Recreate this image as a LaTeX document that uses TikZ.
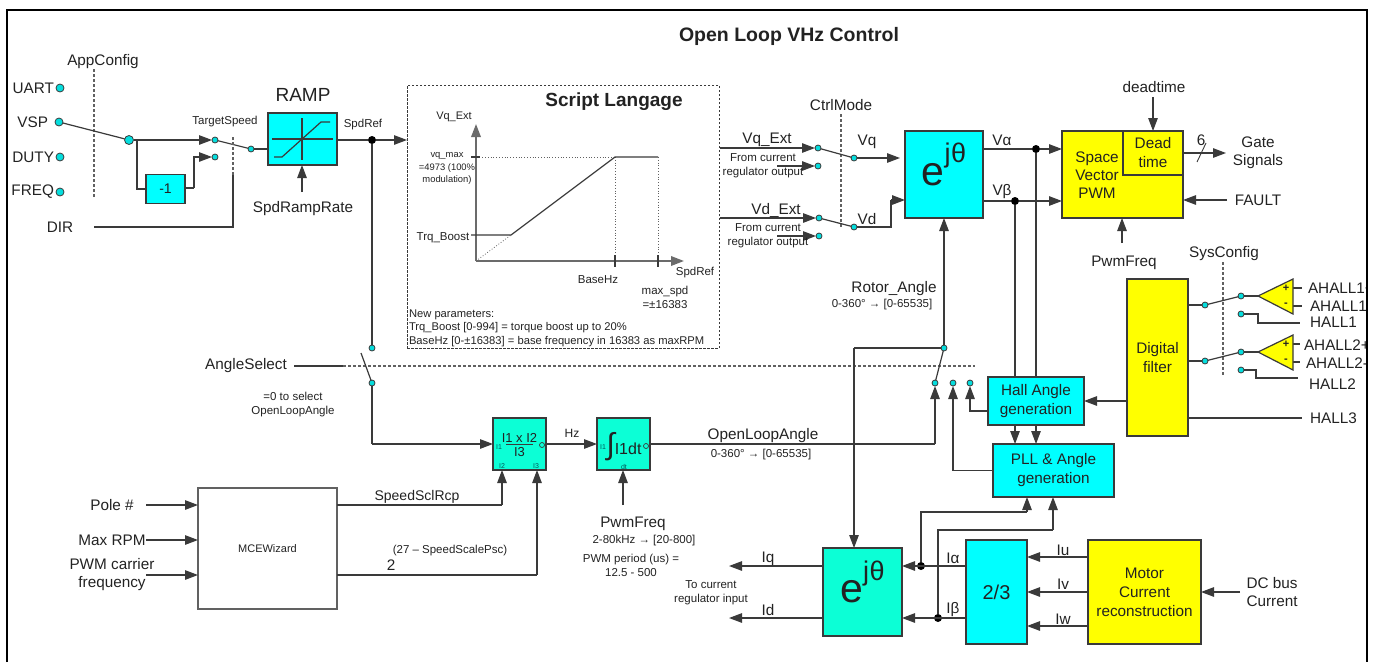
\documentclass[tikz,border=0pt]{standalone}
\usepackage{fontspec}
\setmainfont{Liberation Sans}
\usepackage{xcolor}
\definecolor{Aqua}{HTML}{00FFFF}
\definecolor{Mint}{HTML}{0CFFD6}
\definecolor{Lemon}{HTML}{FFFF00}
\definecolor{Ink}{HTML}{222222}
\definecolor{Wire}{HTML}{3A3A3A}
\colorlet{cPort}{Aqua!85!Ink}
\usepackage{tikz}
\usetikzlibrary{positioning, arrows.meta}
\tikzset{
	>={Triangle[length=13pt,width=9.5pt]},
	txt/.style={
		inner sep=0pt,
		outer sep=0pt,
		align=center,
		text=Ink
	},
	big label/.style={
		txt,
		font=\fontsize{15.3}{18}\selectfont
	},
	small label/.style={
		txt,
		font=\fontsize{11.5}{14}\selectfont
	},
	port label/.style={
		txt,
		text=teal!70!black,
		font=\fontsize{7}{8}\selectfont
	},
	block/.style={
		draw=Wire,
		line width=1.2pt,
		fill=Aqua,
		outer sep=0pt,
		inner sep=0pt,
		align=center,
		text=Ink,
		font=\fontsize{15.3}{19}\selectfont
	},
	mint block/.style={
		block,
		fill=Mint
	},
	yellow block/.style={
		block,
		fill=Lemon
	},
	terminal/.style={
		draw=Wire,
		circle,
		fill=cPort,
		line width=.8pt,
		minimum size=6pt,
		inner sep=0pt,
		outer sep=0pt
	},
	input terminal/.style={
		terminal,
		minimum size=8pt
	},
	big terminal/.style={
		terminal,
		minimum size=9pt
	},
	junction/.style={
		circle,
		fill=black,
		minimum size=8pt,
		inner sep=0pt,
		outer sep=0pt
	},
	port/.style={
		draw=Wire,
		circle,
		line width=.7pt,
		minimum size=5pt,
		inner sep=0pt
	},
	wire/.style={
		draw=Wire,
		line width=1.2pt
	},
	edge/.style={
		->,
		wire
	},
	config line/.style={
		draw=Wire!80,
		line width=1.2pt,
		dash pattern=on 3pt off 2pt
	},
	axis/.style={
		->,
		draw=Wire!75,
		line width=1.8pt
	},
	guide/.style={
		draw=Wire!80,
		line width=.8pt,
		dotted
	}
}

\newcommand{\ejt}[1]{{\fontsize{#1}{#1}\selectfont e\smash{\raisebox{.55em}{\fontsize{27}{27}\selectfont j\hspace{.5pt}θ}}}}

\begin{document}
\begin{tikzpicture}[x=1pt, y=-1pt]
\useasboundingbox (0,0) rectangle (1373,662);
\coordinate (f-bl) at (7,662);
\coordinate (f-tl) at (7,10);
\coordinate (f-tr) at (1367,10);
\coordinate (f-br) at (1367,662);
\node[txt, font=\fontsize{19.5}{22}\selectfont\bfseries] at (789,36) (title) {Open Loop VHz Control};

% ---
% speed inputs
% ---
\node[big label] at (103,62) (appconfig) {AppConfig};
\coordinate (appconfig-end) at (94,197);
\draw[config line] (94,69) -- (appconfig-end);

\node[input terminal] at (60,88) (t-uart) {};
\node[input terminal] at (59,122) (t-vsp) {};
\node[input terminal] at (60,157) (t-duty) {};
\node[input terminal] at (60,192) (t-freq) {};
\node[big label, left=2pt of t-uart] (l-uart) {UART};
\node[big label, left=7pt of t-vsp] (l-vsp) {VSP};
\node[big label, left=2pt of t-duty] (l-duty) {DUTY};
\node[big label, left=2pt of t-freq] (l-freq) {FREQ};

\node[big terminal] at (129,140) (t-dir) {};
\node[terminal] at (215,140) (t-pos) {};
\node[terminal] at (215,157) (t-neg) {};
\node[terminal] at (251,149) (t-spd) {};
\node[block, minimum width=39pt, minimum height=29pt] at (165.5,189) (neg) {\fontsize{14}{14}\selectfont -1};
\coordinate (c-branch) at (137,140);
\coordinate (c-neg) at (194,188);

\draw[wire] (t-vsp) -- (t-dir);
\draw[edge] (t-dir) -- (t-pos);
\draw[wire] (c-branch) |- (neg.west);
\draw[wire] (neg.east |- c-neg) -- (c-neg);
\draw[edge] (c-neg) |- (t-neg);
\draw[wire] (t-pos) -- (t-spd);

\node[small label] at (225,122) (targetspeed) {TargetSpeed};
\node[big label] at (60,227) (l-sel) {DIR};
\coordinate (sel-in) at (94,227);
\coordinate (sel-corner) at (233,227);
\coordinate (sel-mid) at (233,175);
\coordinate (sel-top) at (233,137);
\draw[wire] (sel-in) -- (sel-corner) -- (sel-mid);
\draw[config line] (sel-mid) -- (sel-top);

% ---
% ramp
% ---
\node[block, minimum width=69pt, minimum height=52pt] at (302.5,139) (ramp) {};
\node[txt, font=\fontsize{19}{22}\selectfont] at (303,95) (l-ramp) {RAMP};
\draw[wire] (302,118) -- (302,160);
\draw[wire] (272,139) -- (333,139);
\draw[wire] (274,157) -- (282,157) -- (321,122) -- (330,122);
\draw[wire] (t-spd) -- (t-spd -| ramp.west);
\node[big label] at (303,209) (l-ramprate) {SpdRampRate};
\coordinate (ramprate-in) at (302,192);
\draw[edge] (ramprate-in) -- (ramp.south -| ramprate-in);

\node[small label] at (363,125) (l-spdref) {SpdRef};
\node[junction] at (372,140) (j-spdref) {};
\draw[wire] (ramp.east |- j-spdref) -- (j-spdref);

% ---
% script block
% ---
\node[draw=Wire, line width=1pt, dash pattern=on 2.5pt off 1.5pt, minimum width=312pt, minimum height=263pt, inner sep=0pt, outer sep=0pt] at (563,216.5) (script) {};
\draw[edge] (j-spdref) -- (script.west |- j-spdref);
\node[txt, font=\fontsize{19}{22}\selectfont\bfseries] at (614,102) (l-script) {Script Langage};

\coordinate (g-o) at (476,261);
\coordinate (g-y) at (476,124);
\coordinate (g-x) at (684,261);
\coordinate (g-vq) at (471,157);
\coordinate (g-a) at (615,157);
\coordinate (g-b) at (658,157);
\coordinate (g-boost) at (471,235);
\coordinate (g-c) at (511,235);
\draw[guide] (g-vq) -- (g-a);
\draw[guide] (g-o) -- (g-c);
\draw[guide] (g-a) -- (g-a |- g-o);
\draw[guide] (g-b) -- (g-b |- g-o);
\draw[axis] (g-o) -- (g-y);
\draw[axis] (g-o) -- (g-x);
\draw[wire] (g-boost) -- (g-c) -- (g-a) -- (g-b);
\draw[wire] (g-vq) -- ++(9,0);
\draw[wire] (615,255) -- (615,267);
\draw[wire] (658,255) -- (658,267);

\node[small label, font=\fontsize{11}{14}\selectfont] at (454,117) (l-vqext) {Vq\_Ext};
\node[txt, font=\fontsize{9.4}{12.5}\selectfont] at (447,168.5) (l-vqmax) {vq\_max\\=4973 (100\%\\modulation)};
\node[small label] at (443,238) (l-boost) {Trq\_Boost};
\node[small label] at (598,280) (l-basehz) {BaseHz};
\node[small label] at (695,273) (l-gspd) {SpdRef};
\node[small label] at (665,297.5) (l-maxspd) {max\_spd\\=±16383};
\node[small label, align=left, anchor=west, font=\fontsize{11.2}{13.4}\selectfont] at (409,328) (l-params) {New parameters:\\Trq\_Boost [0-994] = torque boost up to 20\%\\BaseHz [0-±16383] = base frequency in 16383 as maxRPM};

% ---
% voltage command selection
% ---
\node[big label] at (841,105) (l-ctrlmode) {CtrlMode};
\draw[config line] (841,114) -- (841,227);

\node[block, minimum width=78pt, minimum height=87pt] at (944,174.5) (ejt-v) {\ejt{41}};

\node[terminal] at (818,148) (t-vq1) {};
\node[terminal] at (818,166) (t-vq2) {};
\node[terminal] at (854,158) (t-vq) {};
\node[terminal] at (819,218) (t-vd1) {};
\node[terminal] at (819,236) (t-vd2) {};
\node[terminal] at (854,227) (t-vd) {};
\coordinate (vq1-in) at (720,148);
\coordinate (vq2-in) at (777,166);
\coordinate (vd1-in) at (720,218);
\coordinate (vd2-in) at (777,236);
\coordinate (vq-tip) at (900,158);
\coordinate (vd-a) at (891,227);
\coordinate (vd-b) at (891,200);

\draw[edge] (vq1-in) -- (t-vq1);
\draw[edge] (vq2-in) -- (t-vq2);
\draw[edge] (vd1-in) -- (t-vd1);
\draw[edge] (vd2-in) -- (t-vd2);
\draw[wire] (t-vq1) -- (t-vq);
\draw[wire] (t-vd1) -- (t-vd);
\draw[edge] (t-vq) -- (vq-tip);
\draw[wire] (t-vd) -- (vd-a) -- (vd-b);
\draw[edge] (vd-b) -- (ejt-v.west |- vd-b);

\node[big label] at (767,140) (l-vq1) {Vq\_Ext};
\node[small label] at (763,166) (l-from1) {From current\\regulator output};
\node[big label] at (776,210) (l-vd1) {Vd\_Ext};
\node[small label] at (768,236) (l-from2) {From current\\regulator output};
\node[big label] at (867,142) (l-vq) {Vq};
\node[big label] at (867,219) (l-vd) {Vd};

% ---
% space vector pwm
% ---
\node[yellow block, minimum width=121pt, minimum height=87pt] at (1122.5,174.5) (svpwm) {};
\node[yellow block, minimum width=60pt, minimum height=44pt] at (1153,153) (dead) {Dead\\time};
\node[txt, font=\fontsize{15.3}{18}\selectfont] at (1097,175) (l-svpwm) {Space\\Vector\\PWM};

\node[junction] at (1036,149) (j-valpha) {};
\node[junction] at (1015,201) (j-vbeta) {};
\draw[wire] (ejt-v.east |- j-valpha) -- (j-valpha);
\draw[wire] (ejt-v.east |- j-vbeta) -- (j-vbeta);
\draw[edge] (j-valpha) -- (svpwm.west |- j-valpha);
\draw[edge] (j-vbeta) -- (svpwm.west |- j-vbeta);
\node[big label] at (1002,140) (l-valpha) {Vα};
\node[big label] at (1002,192) (l-vbeta) {Vβ};

\node[big label] at (1154,87) (l-deadtime) {deadtime};
\coordinate (deadtime-in) at (1153,97);
\draw[edge] (deadtime-in) -- (dead.north);
\coordinate (gate-tip) at (1226,153);
\draw[edge] (dead.east) -- (gate-tip);
\draw[wire, line width=.9pt] (1197,162) -- (1206,143);
\node[big label] at (1201,140) (l-six) {6};
\node[big label] at (1258,153) (l-gate) {Gate\\Signals};
\node[big label] at (1258,200) (l-fault) {FAULT};
\coordinate (fault-in) at (1227,200);
\draw[edge] (fault-in) -- (svpwm.east |- fault-in);
\node[big label] at (1124,263) (l-pwm) {PwmFreq};
\coordinate (pwm-in) at (1122,243);
\draw[edge] (pwm-in) -- (svpwm.south -| pwm-in);

% ---
% hall inputs
% ---
\node[big label] at (1224,254) (l-sysconfig) {SysConfig};
\draw[config line] (1223,262) -- (1223,375);
\node[yellow block, minimum width=61pt, minimum height=157pt] at (1157.5,357.5) (filter) {Digital\\filter};

\node[terminal] at (1205,305) (t-h1) {};
\node[terminal] at (1241,296) (t-h1a) {};
\node[terminal] at (1241,314) (t-h1b) {};
\node[terminal] at (1205,361) (t-h2) {};
\node[terminal] at (1241,352) (t-h2a) {};
\node[terminal] at (1241,370) (t-h2b) {};
\coordinate (op1-tip) at (1258,296);
\coordinate (op2-tip) at (1258,352);

\draw[wire] (filter.east |- t-h1) -- (t-h1);
\draw[wire] (t-h1) -- (t-h1a);
\draw[wire] (t-h1a) -- (op1-tip);
\draw[wire] (filter.east |- t-h2) -- (t-h2);
\draw[wire] (t-h2) -- (t-h2a);
\draw[wire] (t-h2a) -- (op2-tip);

\draw[wire] (1293,288) -- (1302,288);
\draw[wire] (1293,306) -- (1302,306);
\draw[wire] (1293,344) -- (1300,344);
\draw[wire] (1293,362) -- (1300,362);
\draw[wire, fill=Lemon] (op1-tip) -- (1293,279) -- (1293,314) -- cycle;
\draw[wire, fill=Lemon] (op2-tip) -- (1293,335) -- (1293,370) -- cycle;
\node[txt, font=\fontsize{11}{11}\selectfont\bfseries] at (1286,288) (op1-p) {+};
\node[txt, font=\fontsize{11}{11}\selectfont\bfseries] at (1286,305) (op1-m) {-};
\node[txt, font=\fontsize{11}{11}\selectfont\bfseries] at (1286,344) (op2-p) {+};
\node[txt, font=\fontsize{11}{11}\selectfont\bfseries] at (1286,361) (op2-m) {-};

\begin{scope}
\clip (1290,270) rectangle (1367,380);
\node[big label, anchor=west] at (1308,288) (l-a1p) {AHALL1+};
\node[big label, anchor=west] at (1310,306) (l-a1m) {AHALL1-};
\node[big label, anchor=west] at (1304,345) (l-a2p) {AHALL2+};
\node[big label, anchor=west] at (1306,363) (l-a2m) {AHALL2-};
\end{scope}
\node[big label, anchor=west] at (1310,322) (l-h1) {HALL1};
\node[big label, anchor=west] at (1309,384) (l-h2) {HALL2};
\node[big label, anchor=west] at (1310,418) (l-h3) {HALL3};

\coordinate (h1-a) at (1258,314);
\coordinate (h1-b) at (1258,323);
\coordinate (h1-c) at (1300,323);
\coordinate (h2-a) at (1256,370);
\coordinate (h2-b) at (1256,378);
\coordinate (h2-c) at (1298,378);
\coordinate (h3-c) at (1302,418);
\draw[wire] (t-h1b) -- (h1-a) -- (h1-b) -- (h1-c);
\draw[wire] (t-h2b) -- (h2-a) -- (h2-b) -- (h2-c);
\draw[wire] (filter.east |- h3-c) -- (h3-c);

% ---
% angle generation
% ---
\node[block, minimum width=96pt, minimum height=48pt] at (1036,401) (hall) {Hall Angle\\generation};
\node[block, minimum width=121pt, minimum height=53pt] at (1053.5,470.5) (pll) {PLL \& Angle\\generation};
\draw[edge] (filter.west |- hall) -- (hall.east);
\draw[wire] (j-valpha) -- (j-valpha |- hall.north);
\draw[wire] (j-vbeta) -- (j-vbeta |- hall.north);
\draw[edge] (hall.south -| j-valpha) -- (pll.north -| j-valpha);
\draw[edge] (hall.south -| j-vbeta) -- (pll.north -| j-vbeta);

\node[big label] at (894,289) (l-rotor) {Rotor\_Angle};
\node[small label] at (882,305) (l-rotor-range) {0-360° → [0-65535]};

\node[big label] at (246,366) (l-anglesel) {AngleSelect};
\coordinate (anglesel-in) at (294,366);
\coordinate (anglesel-mid) at (343,366);
\coordinate (anglesel-end) at (975,366);
\draw[wire] (anglesel-in) -- (anglesel-mid);
\draw[config line] (anglesel-mid) -- (anglesel-end);
\node[small label] at (293,405) (l-anglesel-note) {=0 to select\\OpenLoopAngle};

\node[terminal] at (372,348) (t-sel-in) {};
\node[terminal] at (372,383) (t-sel-out) {};
\coordinate (blade-end) at (361,353);
\draw[wire] (j-spdref) -- (t-sel-in);
\draw[wire] (blade-end) -- (t-sel-out);

\node[terminal] at (944,348) (t-ang) {};
\node[terminal] at (935,383) (t-ang1) {};
\node[terminal] at (953,383) (t-ang2) {};
\node[terminal] at (970,383) (t-ang3) {};
\draw[wire] (t-ang) -- (t-ang1);
\draw[edge] (t-ang) -- (ejt-v.south -| t-ang);
\draw[edge] (pll.west) -| (t-ang2);
\draw[edge] (hall.west |- 0,411) -| (t-ang3);

% ---
% open loop angle
% ---
\node[mint block, minimum width=53pt, minimum height=52pt] at (519.5,444) (scale) {};
\node[txt, font=\fontsize{13}{13}\selectfont, anchor=south] at (519.5,442.5) (scale-num) {I1 x I2};
\node[txt, font=\fontsize{13}{13}\selectfont, anchor=north] at (519.5,447) (scale-den) {I3};
\draw[wire, line width=1pt] (506,444.5) -- (533,444.5);
\node[port label] at (499,447) (scale-i1) {I1};
\node[port label] at (502,466) (scale-i2) {I2};
\node[port label] at (536,466) (scale-i3) {I3};
\node[port] at (542,445) (scale-o) {};

\node[mint block, minimum width=53pt, minimum height=52pt] at (623.5,444) (integ) {};
\node[txt, font=\fontsize{16}{16}\selectfont] at (624,447) (integ-txt) {{\fontsize{30}{30}\selectfont ∫}I1dt};
\node[port label] at (603,447) (integ-i1) {I1};
\node[port label] at (624,467) (integ-dt) {dt};
\node[port] at (646,446) (integ-o) {};

\coordinate (sel-corner2) at (372,444);
\draw[wire] (t-sel-out) -- (sel-corner2);
\draw[edge] (sel-corner2) -- (scale.west);
\draw[edge] (scale.east) -- (integ.west);
\node[small label, font=\fontsize{12}{12}\selectfont] at (572,433) (l-hz) {Hz};
\coordinate (ol-corner) at (935,444);
\draw[wire] (integ.east) -- (ol-corner);
\draw[edge] (ol-corner) -- (t-ang1);
\node[big label] at (763,436) (l-ol) {OpenLoopAngle};
\node[small label] at (761,455) (l-ol-range) {0-360° → [0-65535]};

\coordinate (pwm2-in) at (623,505);
\draw[edge] (pwm2-in) -- (integ.south -| pwm2-in);
\node[big label] at (633,524) (l-pwm2) {PwmFreq};
\node[small label] at (644,541) (l-pwm2-range) {2-80kHz → [20-800]};
\node[small label] at (631,565) (l-pwm2-period) {PWM period (us) =\\12.5 - 500};

% ---
% scaling inputs
% ---
\node[draw=Wire!80, line width=1.2pt, fill=white, minimum width=139pt, minimum height=121pt, inner sep=0pt, outer sep=0pt, font=\fontsize{11}{13}\selectfont, text=Ink] at (267.5,548.5) (wizard) {MCEWizard};
\node[big label] at (112,505) (l-pole) {Pole \#};
\node[big label] at (112,540) (l-rpm) {Max RPM};
\node[big label] at (112,575) (l-carrier) {PWM carrier\\frequency};
\coordinate (pole-in) at (146,505);
\coordinate (rpm-in) at (146,540);
\coordinate (carrier-in) at (146,575);
\draw[edge] (pole-in) -- (wizard.west |- pole-in);
\draw[edge] (rpm-in) -- (wizard.west |- rpm-in);
\draw[edge] (carrier-in) -- (wizard.west |- carrier-in);

\coordinate (rcp-corner) at (502,505);
\coordinate (psc-corner) at (537,575);
\draw[wire] (wizard.east |- rcp-corner) -- (rcp-corner);
\draw[edge] (rcp-corner) -- (scale.south -| rcp-corner);
\draw[wire] (wizard.east |- psc-corner) -- (psc-corner);
\draw[edge] (psc-corner) -- (scale.south -| psc-corner);
\node[big label, font=\fontsize{14}{14}\selectfont] at (417,497) (l-rcp) {SpeedSclRcp};
\node[big label] at (391,565) (l-two) {2};
\node[small label] at (450,551) (l-psc) {(27 – SpeedScalePsc)};

% ---
% current feedback
% ---
\node[mint block, minimum width=79pt, minimum height=88pt] at (862.5,592) (ejt-i) {\ejt{41}};
\node[block, minimum width=61pt, minimum height=104pt, font=\fontsize{20}{20}\selectfont] at (996.5,592) (clarke) {2/3};
\node[yellow block, minimum width=113pt, minimum height=104pt] at (1144.5,592) (motor) {Motor\\Current\\reconstruction};

\coordinate (rotor-c) at (854,348);
\draw[wire] (t-ang) -- (rotor-c);
\draw[edge] (rotor-c) -- (ejt-i.north -| rotor-c);

\coordinate (iq-tip) at (729,566);
\coordinate (id-tip) at (729,618);
\draw[edge] (ejt-i.west |- iq-tip) -- (iq-tip);
\draw[edge] (ejt-i.west |- id-tip) -- (id-tip);
\node[big label] at (768,559) (l-iq) {Iq};
\node[big label] at (768,610) (l-id) {Id};
\node[small label] at (711,592.5) (l-toreg) {To current\\regulator input};

\node[junction] at (921,566) (j-ialpha) {};
\node[junction] at (938,618) (j-ibeta) {};
\draw[edge] (clarke.west |- j-ialpha) -- (ejt-i.east |- j-ialpha);
\draw[edge] (clarke.west |- j-ibeta) -- (ejt-i.east |- j-ibeta);
\node[big label] at (953,558) (l-ialpha) {Iα};
\node[big label] at (953,610) (l-ibeta) {Iβ};

\coordinate (ia-c) at (1027,512);
\coordinate (ib-c) at (1053,530);
\draw[wire] (j-ialpha) |- (ia-c);
\draw[wire] (j-ibeta) |- (ib-c);
\draw[edge] (ia-c) -- (pll.south -| ia-c);
\draw[edge] (ib-c) -- (pll.south -| ib-c);

\coordinate (iu-c) at (1088,557);
\coordinate (iv-c) at (1088,592);
\coordinate (iw-c) at (1088,626);
\draw[edge] (iu-c) -- (clarke.east |- iu-c);
\draw[edge] (iv-c) -- (clarke.east |- iv-c);
\draw[edge] (iw-c) -- (clarke.east |- iw-c);
\node[big label] at (1063,550) (l-iu) {Iu};
\node[big label] at (1063,584) (l-iv) {Iv};
\node[big label] at (1063,619) (l-iw) {Iw};

\node[big label] at (1272,592.5) (l-dcbus) {DC bus\\Current};
\coordinate (dcbus-in) at (1240,592);
\draw[edge] (dcbus-in) -- (motor.east);

% frame
\draw[line width=2pt, black] (f-bl) -- (f-tl) -- (f-tr) -- (f-br);
\end{tikzpicture}
\end{document}
